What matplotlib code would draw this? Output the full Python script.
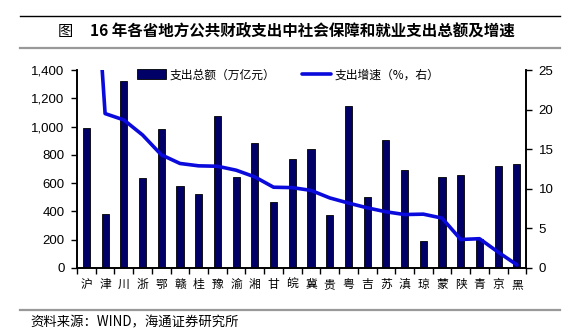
import matplotlib
matplotlib.use("Agg")
import matplotlib.pyplot as plt
from matplotlib.lines import Line2D
from matplotlib.ticker import FuncFormatter, FixedLocator

plt.rcParams['font.family'] = ['Liberation Sans', 'Noto Sans CJK SC', 'DejaVu Sans']

# 省份
provinces = ['沪', '津', '川', '浙', '鄂', '赣', '桂', '豫', '渝', '湘', '甘', '皖',
             '冀', '贵', '粤', '吉', '苏', '滇', '琼', '蒙', '陕', '青', '京', '黑']
# 支出总额（左轴）
spend = [990, 385, 1322, 635, 982, 583, 524, 1074, 642, 881, 467, 768,
         843, 373, 1147, 503, 904, 694, 189, 644, 656, 205, 720, 736]
# 支出增速 %（右轴）
growth = [55, 19.5, 18.7, 16.8, 14.3, 13.2, 12.9, 12.85, 12.35, 11.5, 10.2, 10.15,
          9.8, 8.85, 8.2, 7.6, 7.1, 6.75, 6.8, 6.3, 3.6, 3.7, 2.0, 0.4]

left_ticks = [0, 200, 400, 600, 800, 1000, 1200, 1400]
right_ticks = [0, 5, 10, 15, 20, 25]

cjk = ['Noto Sans CJK SC', 'DejaVu Sans']

fig = plt.figure(figsize=(5.76, 3.35), dpi=100)
ax = fig.add_axes([0.1337, 0.2, 0.780, 0.591])
ax2 = ax.twinx()

x = list(range(len(provinces)))
bars = ax.bar(x, spend, width=0.38, color='#000066', edgecolor='black', linewidth=0.6,
              label='支出总额（万亿元）')
line, = ax2.plot(x, growth, color='#0A0ADC', lw=2.6, solid_joinstyle='round',
                 solid_capstyle='round', label='支出增速（%，右）')

ax.set_xlim(-0.5, len(provinces) - 0.5)
ax.set_ylim(0, 1400)
ax2.set_ylim(0, 25)
ax.set_yticks(left_ticks)
ax2.set_yticks(right_ticks)
ax.yaxis.set_major_formatter(FuncFormatter(lambda v, p: f'{int(v):,}'))

# 分类标签 + 类别边界刻度
ax.set_xticks(x)
ax.set_xticklabels(provinces, fontsize=8.5, family=cjk)
ax.xaxis.set_minor_locator(FixedLocator([i - 0.5 for i in range(len(provinces) + 1)]))
ax.tick_params(axis='x', which='major', length=0, pad=7)
ax.tick_params(axis='x', which='minor', length=4, width=1, direction='out')
ax.tick_params(axis='y', length=4, width=1, labelsize=9.5, pad=5)
ax2.tick_params(axis='y', length=4, width=1, labelsize=9.5, pad=5)

for a in (ax, ax2):
    a.spines['top'].set_visible(False)
    for s in ('left', 'right', 'bottom'):
        a.spines[s].set_linewidth(1.2)

leg = ax2.legend([bars, line], [bars.get_label(), line.get_label()], ncol=2,
                 loc='center left', bbox_to_anchor=(0.133, 0.975), frameon=False,
                 borderpad=0, borderaxespad=0, handlelength=2.5, handletextpad=0.3,
                 columnspacing=2.2, handleheight=0.9,
                 prop={'family': cjk, 'size': 8.5})

# 标题与分隔线
fig.add_artist(Line2D([0.035, 0.972], [0.953, 0.953], color='black', lw=1.0))
fig.add_artist(Line2D([0.035, 0.972], [0.858, 0.858], color='#999999', lw=1.6))
fig.add_artist(Line2D([0.035, 0.972], [0.075, 0.075], color='#999999', lw=1.6))
fig.text(0.113, 0.905, '图', ha='center', va='center', fontsize=11, family=cjk)
fig.text(0.156, 0.905, '16 年各省地方公共财政支出中社会保障和就业支出总额及增速',
         ha='left', va='center', fontsize=11.2, fontweight='bold', family=cjk)
fig.text(0.052, 0.036, '资料来源：WIND，海通证券研究所', ha='left', va='center',
         fontsize=9.6, family=cjk)

fig.savefig('out.png', dpi=100)
